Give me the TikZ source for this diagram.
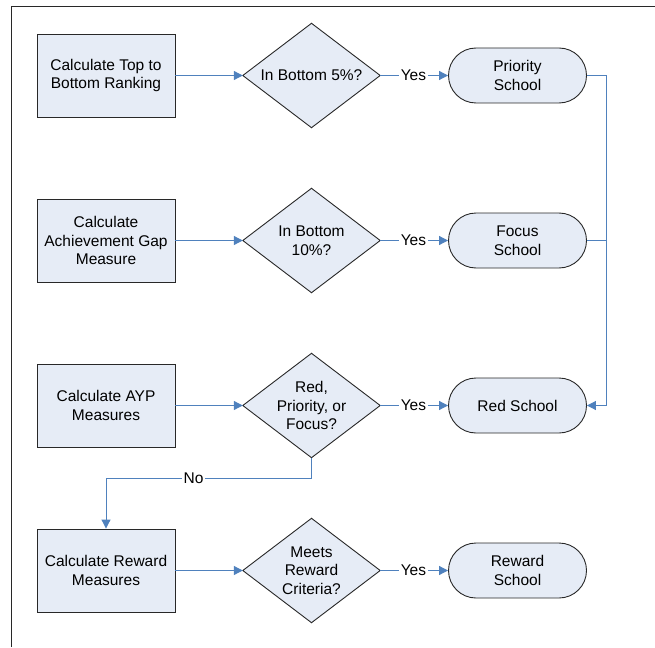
\documentclass[tikz,border=0pt]{standalone}
\usepackage{fontspec}
\setmainfont{Liberation Sans}
\usetikzlibrary{arrows.meta,backgrounds}
\definecolor{shapefill}{RGB}{230,236,246}
\definecolor{linkblue}{RGB}{79,129,189}
\definecolor{edgegray}{RGB}{40,40,40}
\tikzset{
  every node/.style={font=\fontsize{15.5}{18.5}\selectfont, align=center},
  procbox/.style={draw=edgegray, fill=shapefill, line width=0.9pt, minimum width=138pt, minimum height=83pt, inner sep=0pt},
  decbox/.style={minimum width=137pt, minimum height=104pt, inner sep=0pt},
  diafill/.style={draw=edgegray, fill=shapefill, line width=0.9pt},
  termbox/.style={draw=edgegray, fill=shapefill, line width=0.9pt, rounded corners=27.5pt, minimum width=138pt, minimum height=55pt, inner sep=0pt},
  link/.style={draw=linkblue, line width=1pt},
  conn/.style={link, -{Triangle[length=9pt,width=9pt]}, color=linkblue},
  lbl/.style={fill=white, inner sep=1.5pt, text=black},
}
\begin{document}
\begin{tikzpicture}[x=1pt,y=-1pt]
\useasboundingbox (0,0) rectangle (655,647);
\draw[edgegray, line width=0.9pt] (11,647) -- (11,6.5) -- (655,6.5);

% process boxes
\node[procbox] (r1) at (106,75.5) {Calculate Top to\\Bottom Ranking};
\node[procbox] (r2) at (106,240.5) {Calculate\\Achievement Gap\\Measure};
\node[procbox] (r3) at (106,405.5) {Calculate AYP\\Measures};
\node[procbox] (r4) at (106,570.5) {Calculate Reward\\Measures};

% decisions
\node[decbox] (d1) at (311.5,75.5) {In Bottom 5\%?};
\node[decbox] (d2) at (311.5,240.5) {In Bottom\\10\%?};
\node[decbox] (d3) at (311.5,405.5) {Red,\\Priority, or\\Focus?};
\node[decbox] (d4) at (311.5,570.5) {Meets\\Reward\\Criteria?};
\begin{scope}[on background layer]
\foreach \d in {d1,d2,d3,d4}{
  \draw[diafill] (\d.north) -- (\d.east) -- (\d.south) -- (\d.west) -- cycle;
}
\end{scope}

% terminals
\node[termbox] (t1) at (517.5,75.5) {Priority\\School};
\node[termbox] (t2) at (517.5,240.5) {Focus\\School};
\node[termbox] (t3) at (517.5,405.5) {Red School};
\node[termbox] (t4) at (517.5,570.5) {Reward\\School};

% connectors
\foreach \i in {1,2,3,4}{
  \draw[conn] (r\i.east) -- (d\i.west);
  \draw[conn] (d\i.east) -- node[lbl, pos=0.49] {Yes} (t\i.west);
}
\coordinate (bend) at (606,75.5);
\draw[conn] (t1.east) -- (bend) |- (t3.east);
\draw[link] (t2.east) -- (606,240.5);
\coordinate (nob) at (311.5,478.5);
\draw[conn] (d3.south) -- (nob) -| node[lbl, pos=0.287] {No} (r4.north);
\end{tikzpicture}
\end{document}
